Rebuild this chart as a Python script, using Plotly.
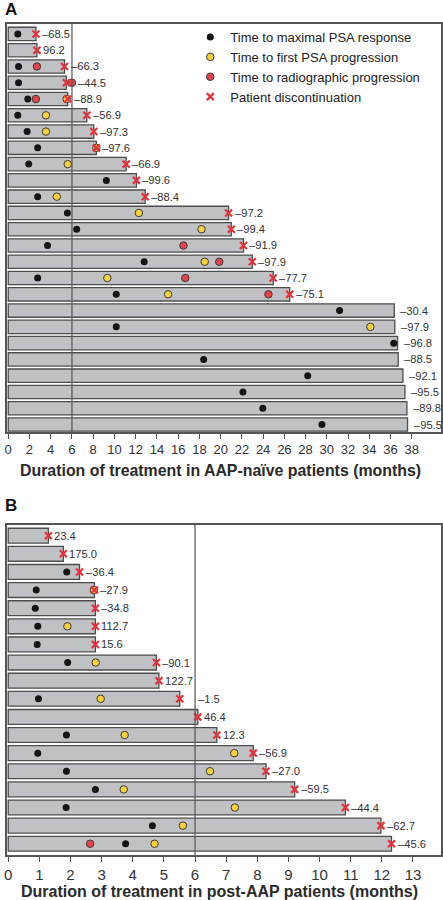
import plotly.graph_objects as go

# ---------------- Data: Panel A (AAP-naive) ----------------
duration_A = [2.61, 2.70, 5.30, 5.48, 5.60, 7.40, 8.06, 8.30, 11.10, 12.07, 12.90, 20.75, 21.00,
              22.15, 22.98, 24.95, 26.50, 36.35, 36.40, 36.66, 36.72, 37.16, 37.35, 37.54, 37.60]
discontinued_A = [True] * 17 + [False] * 8
psa_max_A = [0.90, None, 0.97, 0.97, 1.84, 0.90, 1.78, 2.77, 1.93, 9.24, 2.77, 5.57, 6.44,
             3.70, 12.80, 2.77, 10.17, 31.20, 10.17, 36.30, 18.40, 28.20, 22.10, 23.97, 29.54]
psa_prog_A = [None, None, None, None, 5.50, 3.55, 3.55, 8.30, 5.60, None, 4.57, 12.30, 18.20,
              None, 18.50, 9.33, 15.05, None, 34.10, None, None, None, None, None, None]
radio_prog_A = [None, None, 2.70, 6.00, 2.60, None, None, None, None, None, None, None, None,
                16.50, 19.87, 16.67, 24.50, None, None, None, None, None, None, None, None]
psa_change_A = [-68.5, 96.2, -66.3, -44.5, -88.9, -56.9, -97.3, -97.6, -66.9, -99.6, -88.4, -97.2, -99.4,
                -91.9, -97.9, -77.7, -75.1, -30.4, -97.9, -96.8, -88.5, -92.1, -95.5, -89.8, -95.5]
ticks_A = list(range(0, 39, 2))

# ---------------- Data: Panel B (post-AAP) ----------------
duration_B = [1.29, 1.77, 2.29, 2.77, 2.80, 2.80, 2.80, 4.76, 4.84, 5.51, 6.09, 6.70, 7.87,
              8.28, 9.20, 10.83, 11.97, 12.31]
discontinued_B = [True] * 18
psa_max_B = [None, None, 1.88, 0.90, 0.87, 0.95, 0.93, 1.91, None, 0.97, None, 1.87, 0.95,
             1.87, 2.80, 1.86, 4.63, 3.77]
psa_prog_B = [None, None, None, 2.75, None, 1.90, None, 2.81, None, 2.97, None, 3.74, 7.26,
              6.48, 3.71, 7.28, 5.61, 4.70]
radio_prog_B = [None] * 17 + [2.63]
psa_change_B = [23.4, 175.0, -36.4, -27.9, -34.8, 112.7, 15.6, -90.1, 122.7, -1.5, 46.4, 12.3,
                -56.9, -27.0, -59.5, -44.4, -62.7, -45.6]
ticks_B = list(range(0, 14))

REF_LINE = 6
FONT = "Liberation Sans, Arial, Helvetica, sans-serif"
BAR_FILL = "#c0c1c4"
BAR_LINE = "#4d4d4d"
FRAME = "#555555"
TXT = "#333333"
YELLOW = "#f6d13a"
RED = "#e8434c"
XRED = "#e8303c"

series_names = ["Time to maximal PSA response", "Time to first PSA progression",
                "Time to radiographic progression", "Patient discontinuation"]

fig = go.Figure()


def add_panel(xa, ya, durations, disc, pmax, pprog, rprog, legend):
    rows = list(range(len(durations)))
    fig.add_trace(go.Bar(x=durations, y=rows, orientation="h", width=0.82,
                         marker=dict(color=BAR_FILL, line=dict(color=BAR_LINE, width=1.3)),
                         xaxis=xa, yaxis=ya, showlegend=False, hoverinfo="skip"))
    fig.add_trace(go.Scatter(x=pmax, y=rows, mode="markers", name=series_names[0],
                             marker=dict(color="#151515", size=7, line=dict(color="#151515", width=0)),
                             xaxis=xa, yaxis=ya, showlegend=legend))
    fig.add_trace(go.Scatter(x=pprog, y=rows, mode="markers", name=series_names[1],
                             marker=dict(color=YELLOW, size=7.5, line=dict(color="#3a3a3a", width=1)),
                             xaxis=xa, yaxis=ya, showlegend=legend))
    fig.add_trace(go.Scatter(x=rprog, y=rows, mode="markers", name=series_names[2],
                             marker=dict(color=RED, size=7.5, line=dict(color="#3a3a3a", width=1)),
                             xaxis=xa, yaxis=ya, showlegend=legend))
    xs = [d if f else None for d, f in zip(durations, disc)]
    fig.add_trace(go.Scatter(x=xs, y=rows, mode="markers", name=series_names[3],
                             marker=dict(symbol="x-thin", color=XRED, size=7,
                                         line=dict(color=XRED, width=2.2)),
                             xaxis=xa, yaxis=ya, showlegend=legend))


add_panel("x", "y", duration_A, discontinued_A, psa_max_A, psa_prog_A, radio_prog_A, True)
add_panel("x2", "y2", duration_B, discontinued_B, psa_max_B, psa_prog_B, radio_prog_B, False)


def fmt(v):
    s = f"{abs(v):.1f}"
    return ("\u2013" + s) if v < 0 else s


annotations = []


def add_labels(xref, yref, durations, others, changes, special=None):
    special = special or {}
    for i, (d, c) in enumerate(zip(durations, changes)):
        anchor = max([d] + [o[i] for o in others if o[i] is not None])
        annotations.append(dict(x=anchor, y=i, xref=xref, yref=yref, text=fmt(c),
                                showarrow=False, xanchor="left", yanchor="middle",
                                xshift=special.get(i, 4),
                                font=dict(family=FONT, size=11.2, color=TXT)))


add_labels("x", "y", duration_A, [psa_max_A, psa_prog_A, radio_prog_A], psa_change_A)
add_labels("x2", "y2", duration_B, [psa_max_B, psa_prog_B, radio_prog_B], psa_change_B, special={9: 16})

annotations += [
    dict(text="<b>A</b>", x=0.0, y=1 - 9 / 900, xref="paper", yref="paper", showarrow=False,
         xanchor="left", yanchor="middle", font=dict(family=FONT, size=17, color="#111")),
    dict(text="<b>B</b>", x=0.0, y=1 - 506 / 900, xref="paper", yref="paper", showarrow=False,
         xanchor="left", yanchor="middle", font=dict(family=FONT, size=17, color="#111")),
    dict(text="<b>Duration of treatment in AAP-naïve patients (months)</b>", x=219 / 443,
         y=1 - 470 / 900, xref="paper", yref="paper", showarrow=False, xanchor="center",
         yanchor="middle", font=dict(family=FONT, size=15.9, color="#2a2a2a")),
    dict(text="<b>Duration of treatment in post-AAP patients (months)</b>", x=218 / 443,
         y=1 - 891 / 900, xref="paper", yref="paper", showarrow=False, xanchor="center",
         yanchor="middle", font=dict(family=FONT, size=16, color="#2a2a2a")),
]

shapes = [
    dict(type="line", xref="x", yref="y domain", x0=REF_LINE, x1=REF_LINE, y0=0, y1=1,
         line=dict(color=FRAME, width=1.2), layer="above"),
    dict(type="line", xref="x2", yref="y2 domain", x0=REF_LINE, x1=REF_LINE, y0=0, y1=1,
         line=dict(color=FRAME, width=1.2), layer="above"),
]

axis_common = dict(showline=True, mirror=True, linecolor=FRAME, linewidth=1.5,
                   showgrid=False, zeroline=False)
xdom = [4 / 443, 442 / 443]
nA, nB = len(duration_A), len(duration_B)

fig.update_layout(
    width=443, height=900, margin=dict(l=0, r=0, t=0, b=0),
    paper_bgcolor="white", plot_bgcolor="white",
    barmode="overlay", font=dict(family=FONT, color=TXT),
    xaxis=dict(domain=xdom, range=[-0.12, 40.75], tickvals=ticks_A, ticks="outside", ticklen=5,
               tickcolor=FRAME, tickfont=dict(size=13, color=TXT), anchor="y", **axis_common),
    yaxis=dict(domain=[1 - 432 / 900, 1 - 24 / 900], range=[nA - 1 + 0.46, -0.61],
               showticklabels=False, ticks="", anchor="x", **axis_common),
    xaxis2=dict(domain=xdom, range=[-0.04, 13.9], tickvals=ticks_B, ticks="outside", ticklen=5,
                tickcolor=FRAME, tickfont=dict(size=15, color=TXT), anchor="y2", **axis_common),
    yaxis2=dict(domain=[1 - 855 / 900, 1 - 525 / 900], range=[nB - 1 + 0.62, -0.59],
                showticklabels=False, ticks="", anchor="x2", **axis_common),
    legend=dict(x=189 / 443, y=1 - 22 / 900, xanchor="left", yanchor="top",
                bgcolor="rgba(0,0,0,0)", borderwidth=0,
                font=dict(family=FONT, size=13, color="#222"), tracegroupgap=0),
    annotations=annotations, shapes=shapes,
)

fig.write_html("out.html", config={"displayModeBar": False},
               post_script="document.body.style.margin='0px';document.body.style.padding='0px';"
                           "document.documentElement.style.overflow='hidden';")
